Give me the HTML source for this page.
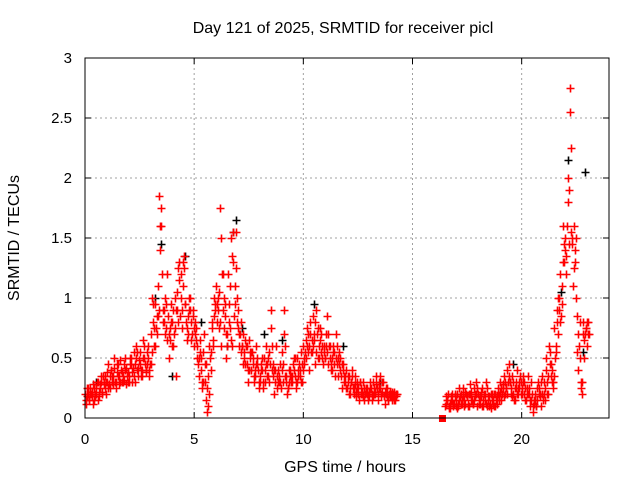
<!DOCTYPE html>
<html><head><meta charset="utf-8"><style>
body{margin:0;background:#fff;}
svg{display:block;font-family:"Liberation Sans",sans-serif;}
</style></head><body>
<svg id="chart" width="640" height="480" viewBox="0 0 640 480">
<rect width="640" height="480" fill="#fff"/>
<text x="343" y="33" text-anchor="middle" font-size="16">Day 121 of 2025, SRMTID for receiver picl</text>
<text transform="translate(19,238) rotate(-90)" text-anchor="middle" font-size="16">SRMTID / TECUs</text>
<text x="345" y="472" text-anchor="middle" font-size="16">GPS time / hours</text>
<g id="grid"></g>
<g id="axes"></g>
<g id="marks"></g>
<rect x="85" y="58" width="524" height="360" fill="none" stroke="#000" stroke-width="1"/>
</svg>
<script>
const xTicks=[0,5,10,15,20];
const yTicks=[0,0.5,1,1.5,2,2.5,3];
const yTickLabels=["0","0.5","1","1.5","2","2.5","3"];
const seg1Start=0.0;
const seg1A=[.2,.18,.15,.22,.25,.2,.3,.25,.22,.35,
.3,.28,.4,.35,.25,.45,.3,.38,.32,.42,
.35,.5,.42,.3,.55,.45,.4,.6,.38,.5,
.45,.8,.95,.7,1.85,1.6,.9,.75,.85,.65,
.8,1.0,.9,1.3,1.2,1.1,.95,.85,1.0,.7,
.6,.75,.5,.4,.55,.3,.05,.6,.8,1.0,
1.1,.9,1.75,1.2,.85,.7,.95,1.5,1.3,1.55,
.9,.7,.6,.55,.45,.65,.4,.5,.35,.45,
.3,.4,.5,.6,.35,.9,.45,.3,.25,.35,
.55,.9,.3,.25,.4,.35,.5,.3,.45,.55,
.6,.5,.7,.8,.55,.65,.9,.6,.7,.45,
.5,.85,.6,.4,.55,.7,.35,.5,.45,.3,
.25,.35,.3,.2,.18,.25,.3,.22,.15,.2,
.18,.25,.3,.2,.15,.35,.22,.18,.2,.15,
.2,.18,.15];
const seg1B=[.15,.25,.2,.12,.18,.3,.22,.35,.28,.2,
.45,.35,.3,.5,.38,.28,.4,.35,.5,.3,
.45,.38,.55,.6,.35,.4,.65,.45,.55,.35,
1.0,.6,.75,1.1,1.4,.9,.7,1.2,.5,.95,
.6,.35,1.25,.85,.75,1.35,.65,1.0,.8,.9,
.8,.5,.65,.25,.7,.15,.35,.4,.6,.95,
.8,1.05,.6,1.0,.5,1.2,.75,.6,1.1,.8,
.6,.8,.45,.65,.3,.5,.55,.3,.6,.25,
.45,.25,.3,.35,.55,.4,.2,.6,.4,.3,
.3,.35,.2,.4,.3,.5,.25,.4,.35,.3,
.45,.75,.4,.55,.85,.45,.5,.75,.5,.6,
.7,.45,.4,.6,.35,.45,.55,.25,.35,.4,
.35,.2,.4,.28,.3,.15,.2,.3,.25,.15,
.3,.15,.2,.35,.25,.18,.3,.12,.25,.22,
.15,.22,.2];
const seg1C=[.12,.2,.25,.18,.15,.25,.18,.3,.35,.25,
.38,.25,.35,.42,.3,.35,.48,.3,.4,.35,
.3,.45,.35,.5,.42,.55,.35,.5,.45,.4,
.7,.95,.6,.85,1.6,1.2,.8,.95,.7,.8,
.9,.75,1.05,1.15,.9,1.25,.8,.7,.9,.85,
.7,.6,.35,.5,.3,.45,.1,.5,.75,.85,
.95,.75,1.5,.9,.95,.6,1.1,1.35,.85,1.25,
.75,.55,.7,.45,.6,.4,.55,.35,.45,.4,
.35,.5,.4,.45,.3,.75,.35,.4,.3,.45,
.4,.7,.35,.3,.35,.45,.35,.5,.4,.45,
.5,.65,.55,.7,.6,.8,.7,.5,.55,.55,
.6,.7,.5,.5,.45,.6,.45,.35,.4,.35,
.3,.25,.35,.25,.22,.2,.25,.18,.2,.25,
.22,.2,.25,.28,.2,.25,.3,.22,.18,.2,
.18,.2,.18];
const seg1D=[.25,.15,.2,.28,.2,.15,.28,.2,.3,.3,
.25,.4,.28,.3,.45,.35,.3,.45,.28,.38,
.5,.3,.45,.4,.48,.35,.5,.4,.6,.45,
.55,.75,.85,.9,1.75,.8,1.0,.65,.75,.6,
.7,.9,.8,1.0,1.3,.95,.75,.9,.65,.75,
.65,.45,.55,.3,.45,.25,.2,.55,.65,.9,
1.0,.8,1.2,.75,.7,.8,.65,1.55,.95,1.0,
.7,.6,.5,.6,.4,.55,.45,.4,.5,.3,
.4,.3,.45,.5,.45,.6,.4,.35,.3,.25,
.45,.6,.25,.35,.3,.4,.3,.35,.3,.4,
.55,.6,.6,.65,.7,.55,.75,.65,.6,.5,
.55,.6,.45,.55,.5,.5,.4,.45,.3,.25,
.2,.3,.25,.35,.25,.3,.2,.25,.22,.18,
.25,.18,.22,.25,.3,.2,.18,.25,.15,.18,
.22,.15,.2];
const seg2Start=16.5;
const seg2A=[.1,.15,.08,.2,.12,
.15,.1,.2,.25,.12,.18,.1,.22,.15,.3,
.2,.12,.25,.15,.1,.18,.08,.15,.2,.25,
.3,.2,.35,.25,.45,.2,.3,.15,.4,.25,
.2,.3,.15,.35,.1,.05,.2,.15,.25,.1,
.3,.5,.2,.55,.4,.75,.9,1.0,.85,1.6,
1.5,2.0,2.75,1.45,1.6,1.0,.4,.25,.8,.7,
.6];
const seg2B=[.18,.08,.15,.1,.2,
.08,.25,.12,.15,.2,.1,.28,.12,.18,.1,
.15,.22,.1,.3,.18,.12,.2,.1,.12,.18,
.15,.28,.2,.4,.3,.35,.15,.25,.2,.3,
.35,.15,.25,.2,.3,.15,.1,.3,.2,.35,
.15,.2,.6,.35,.25,.6,.7,1.2,.95,1.3,
1.2,1.45,2.25,1.1,1.3,.55,.8,.2,.5,.75,
.8];
const seg2C=[.12,.2,.12,.15,.18,
.2,.15,.12,.18,.22,.12,.2,.15,.25,.2,
.12,.18,.15,.2,.25,.1,.15,.2,.15,.2,
.22,.25,.3,.2,.35,.25,.2,.3,.25,.35,
.25,.2,.2,.25,.15,.1,.15,.25,.18,.2,
.2,.4,.35,.45,.3,.5,.8,.9,1.1,1.45,
1.35,1.8,2.55,1.5,1.4,.85,.6,.3,.7,.75,
.7];
const seg2D=[.15,.1,.18,.12,.1,
.12,.18,.15,.1,.18,.2,.15,.12,.2,.25,
.18,.1,.2,.12,.15,.2,.12,.1,.18,.15,
.25,.18,.25,.3,.3,.18,.25,.2,.3,.2,
.3,.25,.2,.15,.2,.12,.1,.2,.3,.15,
.25,.3,.45,.3,.35,.55,1.0,.8,1.3,1.4,
1.6,1.9,1.55,1.25,1.5,.7,.5,.3,.65,.8,
.7];
const blackT=[3.5,4.6,6.9,6.8,7.2,9.0,10.5,11.8,19.6,22.1,22.9,22.8,3.2,5.3,8.2,21.8,0.5,13.5,4.0,6.5];
const blackV=[1.45,1.35,1.65,1.55,.75,.65,.95,.6,.45,2.15,2.05,.55,1.0,.8,.7,1.05,.3,.3,.35,.6];
const squareT=[16.35];
const squareV=[0];

const X0=85,X1=609,Y0=418,Y1=58;
const xs=t=>X0+(t/24)*(X1-X0);
const ys=v=>Y0-(v/3)*(Y0-Y1);
const NS="http://www.w3.org/2000/svg";
const grid=document.getElementById('grid'),axes=document.getElementById('axes'),marks=document.getElementById('marks');
function mk(tag,a,p){const e=document.createElementNS(NS,tag);for(const k in a)e.setAttribute(k,a[k]);p.appendChild(e);return e;}
yTicks.forEach((v,i)=>{
 const y=ys(v);
 if(i>0&&i<yTicks.length-1){const g=mk('line',{x1:X0,x2:X1,y1:y,y2:y,stroke:'#a0a0a0','stroke-dasharray':'2,3'},grid);
 
 }
 const t=mk('line',{x1:X0,x2:X0+6,y1:y,y2:y,stroke:'#000'},axes);
 
 
 const t2=mk('line',{x1:X1,x2:X1-6,y1:y,y2:y,stroke:'#000'},axes);
 
 
 const l=mk('text',{x:72,y:y+5,'text-anchor':'end','font-size':15},axes);l.textContent=yTickLabels[i];
 
 
});
xTicks.forEach(t=>{
 const x=xs(t);
 if(t>0){const g=mk('line',{x1:x,x2:x,y1:Y1,y2:Y0,stroke:'#a0a0a0','stroke-dasharray':'2,3'},grid);
 
 }
 const k=mk('line',{x1:x,x2:x,y1:Y0,y2:Y0-6,stroke:'#000'},axes);
 
 
 const k2=mk('line',{x1:x,x2:x,y1:Y1,y2:Y1+6,stroke:'#000'},axes);
 
 
 const l=mk('text',{x:x,y:444,'text-anchor':'middle','font-size':15},axes);l.textContent=String(t);
 
 
});
function plus(t,v,c){
 const x=Math.round(xs(t))+0.5,y=Math.round(ys(v))+0.5;
 const p=mk('path',{d:`M${x-4},${y}H${x+4}M${x},${y-4}V${y+4}`,stroke:c,'stroke-width':1.6,fill:'none'},marks);
 
 
}
blackT.forEach((t,i)=>plus(t,blackV[i],'#000'));
function seg(start,arr,off){arr.forEach((v,i)=>plus(start+i*0.1+off,v,'#f00'));}
seg(seg1Start,seg1A,0);seg(seg1Start,seg1B,0.05);seg(seg1Start,seg1C,0.025);seg(seg1Start,seg1D,0.075);
seg(seg2Start,seg2A,0);seg(seg2Start,seg2B,0.05);seg(seg2Start,seg2C,0.025);seg(seg2Start,seg2D,0.075);
squareT.forEach((t,i)=>{const r=mk('rect',{x:xs(t)-3,y:ys(squareV[i])-3,width:7,height:7,fill:'#f00'},marks);
 
 });
</script>
</body></html>
